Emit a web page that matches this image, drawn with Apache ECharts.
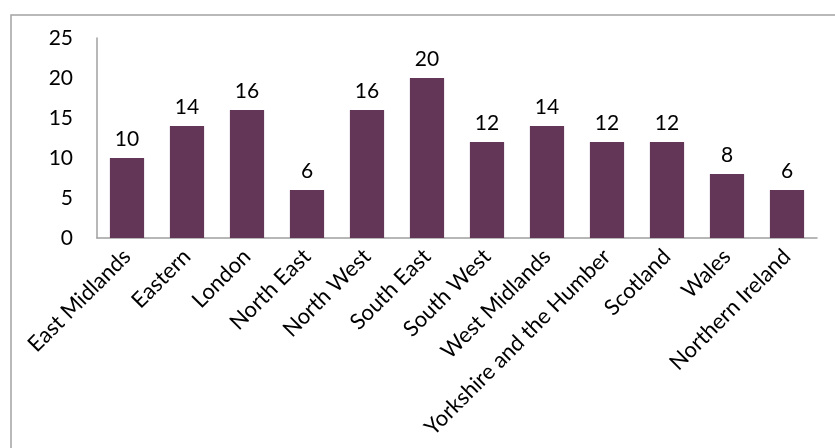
<!DOCTYPE html>
<html>
<head>
<meta charset="utf-8">
<script src="https://cdn.jsdelivr.net/npm/echarts@6/dist/echarts.min.js"></script>
<style>
  html, body { margin: 0; padding: 0; background: #fff; }
  #chart { width: 835px; height: 448px; }
</style>
</head>
<body>
<div id="chart"></div>
<script>
// regions and counts
const regions = ['East Midlands', 'Eastern', 'London', 'North East', 'North West', 'South East',
    'South West', 'West Midlands', 'Yorkshire and the Humber', 'Scotland', 'Wales', 'Northern Ireland'];
const counts = [10, 14, 16, 6, 16, 20, 12, 14, 12, 12, 8, 6];
const yTicks = [0, 5, 10, 15, 20, 25];

const font = 'Lato, "Open Sans", sans-serif';

var myChart = echarts.init(document.getElementById('chart'));

var option = {
    animation: false,
    backgroundColor: '#ffffff',
    graphic: [{
        // outer chart frame (only top and left edges fall inside the picture)
        type: 'rect',
        shape: {x: 11, y: 15, width: 900, height: 600},
        style: {fill: 'none', stroke: '#a3a3a3', lineWidth: 1.5}
    }],
    grid: {left: 97, top: 38, right: 18, bottom: 210},
    xAxis: {
        type: 'category',
        data: regions,
        axisTick: {show: false},
        axisLine: {lineStyle: {color: '#a0a0a0', width: 1.5}},
        axisLabel: {
            rotate: 45,
            interval: 0,
            margin: 15,
            color: '#000',
            fontSize: 22,
            fontFamily: font
        }
    },
    yAxis: {
        type: 'value',
        min: yTicks[0],
        max: yTicks[yTicks.length - 1],
        interval: 5,
        splitLine: {show: false},
        axisTick: {show: false},
        axisLine: {show: true, lineStyle: {color: '#a0a0a0', width: 1.5}},
        axisLabel: {
            margin: 24,
            color: '#000',
            fontSize: 21,
            fontFamily: font
        }
    },
    series: [{
        type: 'bar',
        data: counts,
        barWidth: '57%',
        itemStyle: {color: '#633657'},
        label: {
            show: true,
            position: 'top',
            distance: 8,
            color: '#000',
            fontSize: 21,
            fontFamily: font
        }
    }]
};

myChart.setOption(option);
</script>
</body>
</html>
